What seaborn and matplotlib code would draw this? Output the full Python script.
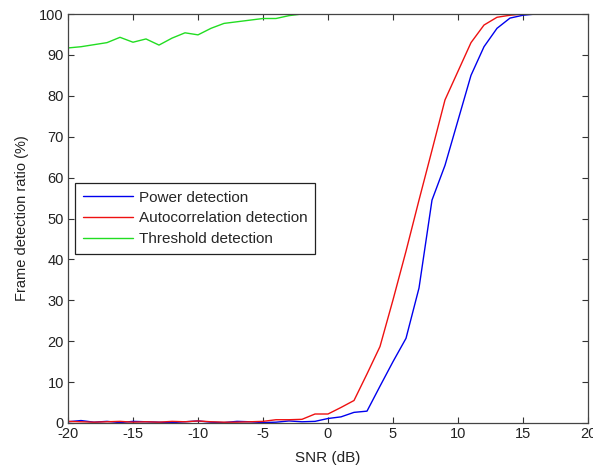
import numpy as np
import pandas as pd
import matplotlib
matplotlib.use("Agg")
import matplotlib.pyplot as plt
import seaborn as sns

snr_db = list(range(-20, 21))
power_detection = [0.3, 0.6, 0.2, 0.4, 0.1, 0.4, 0.3, 0.2, 0.1, 0.3, 0.5, 0.2, 0.1, 0.4, 0.3, 0.1, 0.2, 0.5, 0.3, 0.4,
                   1.1, 1.5, 2.6, 2.9, 9.0, 15.0, 20.7, 33.0, 54.5, 63.0, 74.0, 85.0, 92.0, 96.5, 99.0, 99.7,
                   100, 100, 100, 100, 100]
autocorr_detection = [0.4, 0.3, 0.2, 0.3, 0.4, 0.2, 0.3, 0.2, 0.4, 0.3, 0.5, 0.3, 0.2, 0.2, 0.3, 0.4, 0.8, 0.8, 0.9, 2.2,
                      2.2, 3.8, 5.5, 12.0, 18.7, 30.1, 42.0, 54.5, 66.7, 79.0, 86.0, 93.0, 97.3, 99.2, 99.7, 100,
                      100, 100, 100, 100, 100]
threshold_detection = [91.7, 92.0, 92.5, 93.0, 94.3, 93.1, 93.9, 92.4, 94.1, 95.4, 94.9, 96.5, 97.7, 98.1, 98.5, 98.9,
                       98.9, 99.6, 100, 100, 100, 100, 100, 100, 100, 100, 100, 100, 100, 100, 100, 100, 100, 100,
                       100, 100, 100, 100, 100, 100, 100]
series_names = ["Power detection", "Autocorrelation detection", "Threshold detection"]
series_colors = ["#0000ee", "#ee1111", "#22dd22"]

df = pd.concat([
    pd.DataFrame({"SNR": snr_db, "ratio": vals, "method": name})
    for name, vals in zip(series_names, [power_detection, autocorr_detection, threshold_detection])
])

sns.set_style("ticks")
plt.rcParams["font.family"] = ["Liberation Sans", "DejaVu Sans"]
plt.rcParams["font.size"] = 10
plt.rcParams["axes.unicode_minus"] = False

fig = plt.figure(figsize=(5.93, 4.68), dpi=100)
ax = fig.add_axes([68 / 593, 45 / 468, 520 / 593, 409 / 468])

sns.lineplot(data=df, x="SNR", y="ratio", hue="method", hue_order=series_names,
             palette=series_colors, linewidth=1.0, ax=ax, legend=True)

ax.set_xlim(-20, 20)
ax.set_ylim(0, 100)
ax.set_xticks(range(-20, 21, 5))
ax.set_yticks(range(0, 101, 10))
ax.tick_params(direction="in", top=True, right=True, length=4, width=0.8,
               colors="#333333", labelcolor="#222222", labelsize=10.5, pad=3)
for s in ax.spines.values():
    s.set_color("#444444")
    s.set_linewidth(0.9)
    s.set_visible(True)
ax.set_xlabel("SNR (dB)", fontsize=11, color="#222222", labelpad=7)
ax.set_ylabel("Frame detection ratio (%)", fontsize=10.5, color="#222222", labelpad=7)

handles, labels = ax.get_legend_handles_labels()
leg = ax.legend(handles, labels, loc="upper left", bbox_to_anchor=(0.0135, 0.587),
                frameon=True, fancybox=False, shadow=False, fontsize=11,
                handlelength=3.3, handletextpad=0.4, labelspacing=0.45,
                borderpad=0.5, borderaxespad=0)
leg.get_frame().set_edgecolor("#222222")
leg.get_frame().set_linewidth(0.9)
leg.get_frame().set_alpha(1)

fig.savefig("out.png", dpi=100)
